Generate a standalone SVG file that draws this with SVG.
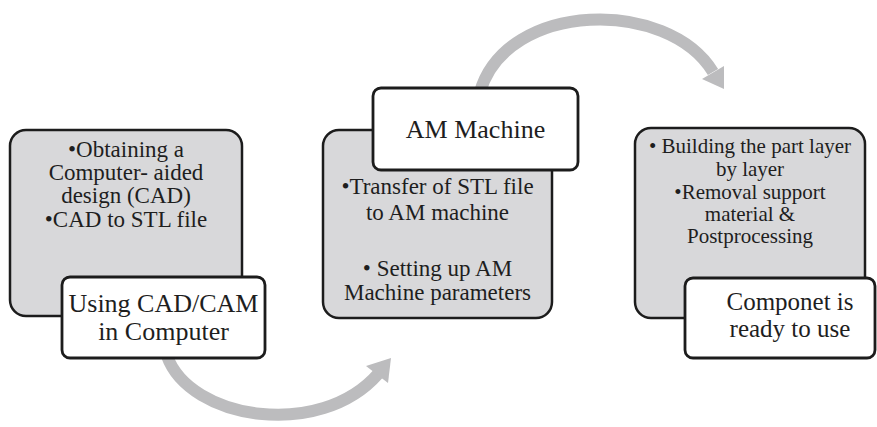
<svg xmlns="http://www.w3.org/2000/svg" width="877" height="427" viewBox="0 0 877 427">
  <style>
    .step { fill: #d8d8da; stroke: #1c1c1c; stroke-width: 2.5; }
    .title { fill: #ffffff; stroke: #1c1c1c; stroke-width: 2.8; }
    .flow { fill: none; stroke: #bcbcbe; stroke-width: 12; }
    .head { fill: #bcbcbe; }
    text { font-family: "Liberation Serif", "Times New Roman", serif; fill: #1e1e1e; text-anchor: middle; }
    .t21 { font-size: 21px; }
    .t23 { font-size: 23px; }
    .t25 { font-size: 25px; }
    .t26 { font-size: 26px; }
  </style>

  <!-- curved flow arrows between the stages -->
  <g id="connectors">
    <path class="flow" d="M167,356 C190,420 320,440 378,374"/>
    <polygon class="head" points="391,358 388,383 366,366"/>
    <path class="flow" d="M480,92 C507,0 668,-2 713,72"/>
    <polygon class="head" points="724,89 724,66 702,79"/>
  </g>

  <!-- stage 1: design on the computer -->
  <g id="node-cad">
    <rect class="step" x="10" y="130" width="232" height="186" rx="16"/>
    <text class="t23" x="126" y="157">•Obtaining a</text>
    <text class="t23" x="126" y="180">Computer- aided</text>
    <text class="t23" x="126" y="203">design (CAD)</text>
    <text class="t23" x="126" y="227">•CAD to STL file</text>
  </g>
  <g id="label-cad">
    <rect class="title" x="62" y="277" width="203" height="81" rx="8"/>
    <text class="t26" x="163.5" y="312">Using CAD/CAM</text>
    <text class="t26" x="163.5" y="340">in Computer</text>
  </g>

  <!-- stage 2: machine setup -->
  <g id="node-machine">
    <rect class="step" x="323" y="130" width="229" height="188" rx="16"/>
    <text class="t23" x="437.5" y="194">•Transfer of STL file</text>
    <text class="t23" x="437.5" y="220">to AM machine</text>
    <text class="t23" x="437.5" y="276">• Setting up AM</text>
    <text class="t23" x="437.5" y="300">Machine parameters</text>
  </g>
  <g id="label-machine">
    <rect class="title" x="373" y="88" width="205" height="82" rx="8"/>
    <text class="t26" x="475.5" y="138">AM Machine</text>
  </g>

  <!-- stage 3: build and finish -->
  <g id="node-build">
    <rect class="step" x="635" y="128" width="230" height="190" rx="16"/>
    <text class="t21" x="750" y="153">• Building the part layer</text>
    <text class="t21" x="750" y="176">by layer</text>
    <text class="t21" x="750" y="199">•Removal support</text>
    <text class="t21" x="750" y="221">material &amp;</text>
    <text class="t21" x="750" y="243">Postprocessing</text>
  </g>
  <g id="label-build">
    <rect class="title" x="685" y="278" width="190" height="80" rx="8"/>
    <text class="t25" x="790" y="310">Componet is</text>
    <text class="t25" x="790" y="337">ready to use</text>
  </g>
</svg>
